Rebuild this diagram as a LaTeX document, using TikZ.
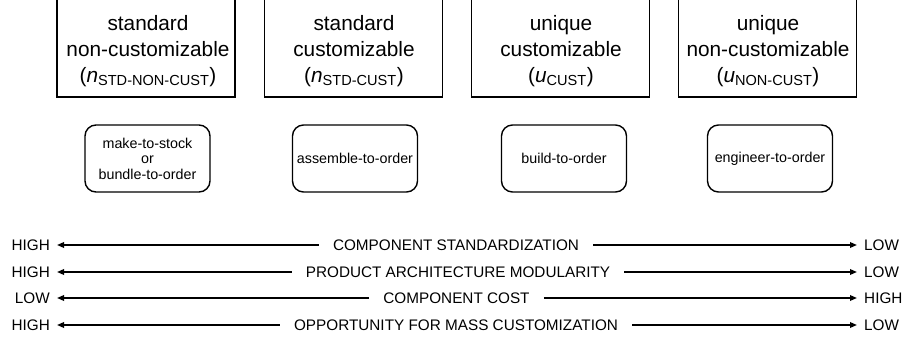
\documentclass[tikz,border=0pt]{standalone}
\usepackage{fontspec}
\setmainfont{Liberation Sans}
\usetikzlibrary{arrows.meta}
\begin{document}
\begin{tikzpicture}[x=1pt,y=-1pt,
  topbox/.style={draw, line width=1.8pt, minimum width=178pt, minimum height=130pt, anchor=south, inner sep=0pt},
  toptext/.style={align=center, font=\fontsize{20.8}{26}\selectfont, inner sep=0pt, anchor=north},
  procbox/.style={draw, line width=1.4pt, rounded corners=11pt, minimum width=125pt, minimum height=67pt, align=center, font=\fontsize{14.3}{15.5}\selectfont, inner sep=0pt},
  axis/.style={font=\fontsize{15.3}{18}\selectfont, text height=11pt, text depth=0pt, inner ysep=0pt},
  mid/.style={axis, inner xsep=14pt},
  leftlab/.style={axis, anchor=east, inner xsep=7pt},
  rightlab/.style={axis, anchor=west, inner xsep=7pt},
  arr/.style={-{Triangle[length=7pt,width=5.5pt]}, line width=1.6pt}
]
\useasboundingbox (0,0) rectangle (904,343);
\clip (0,0) rectangle (904,343);

% top category boxes (top edges lie above the picture)
\node[topbox] (b1) at (146,98) {};
\node[topbox] (b2) at (353.5,98) {};
\node[topbox] (b3) at (560.5,98) {};
\node[topbox] (b4) at (767.5,98) {};

\node[toptext] (t1) at (148,14.8) {standard\\non-customizable\\(\textit{n}\textsubscript{STD-NON-CUST})};
\node[toptext] (t2) at (354,14.8) {standard\\customizable\\(\textit{n}\textsubscript{STD-CUST})};
\node[toptext] (t3) at (561,14.8) {unique\\customizable\\(\textit{u}\textsubscript{CUST})};
\node[toptext] (t4) at (768,14.8) {unique\\non-customizable\\(\textit{u}\textsubscript{NON-CUST})};

% process boxes
\node[procbox] (p1) at (147.5,158.5) {make-to-stock\\or\\bundle-to-order};
\node[procbox] (p2) at (355,158.5) {assemble-to-order};
\node[procbox] (p3) at (564,158.5) {build-to-order};
\node[procbox] (p4) at (770,158.5) {engineer-to-order};

% scales
\node[mid] (c1) at (456,245) {COMPONENT STANDARDIZATION};
\node[leftlab] (l1) at (57,245) {HIGH};
\node[rightlab] (r1) at (857,245) {LOW};
\draw[arr] (c1.west) -- (l1.east);
\draw[arr] (c1.east) -- (r1.west);

\node[mid] (c2) at (458,272) {PRODUCT ARCHITECTURE MODULARITY};
\node[leftlab] (l2) at (57,272) {HIGH};
\node[rightlab] (r2) at (857,272) {LOW};
\draw[arr] (c2.west) -- (l2.east);
\draw[arr] (c2.east) -- (r2.west);

\node[mid] (c3) at (456.5,298) {COMPONENT COST};
\node[leftlab] (l3) at (57,298) {LOW};
\node[rightlab] (r3) at (857,298) {HIGH};
\draw[arr] (c3.west) -- (l3.east);
\draw[arr] (c3.east) -- (r3.west);

\node[mid] (c4) at (456,325) {OPPORTUNITY FOR MASS CUSTOMIZATION};
\node[leftlab] (l4) at (57,325) {HIGH};
\node[rightlab] (r4) at (857,325) {LOW};
\draw[arr] (c4.west) -- (l4.east);
\draw[arr] (c4.east) -- (r4.west);
\end{tikzpicture}
\end{document}
